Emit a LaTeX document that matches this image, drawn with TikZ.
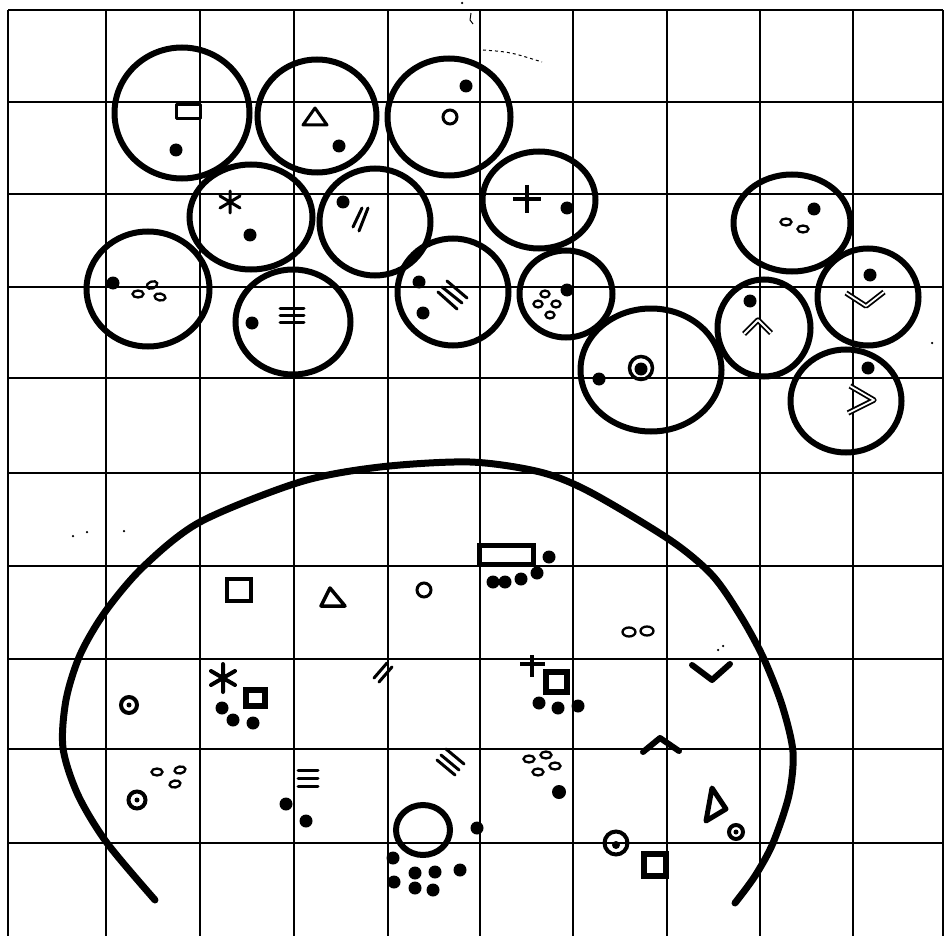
\documentclass[tikz,border=0pt]{standalone}
\usetikzlibrary{shapes.geometric}

\begin{document}
\begin{tikzpicture}[x=1pt, y=-1pt,
  gridline/.style={line width=2pt},
  cell/.style={ellipse, draw, line width=6pt, inner sep=0pt},
  blob/.style={circle, fill, inner sep=0pt, minimum size=13pt},
  speck/.style={circle, fill, inner sep=0pt, minimum size=2.5pt},
  ring/.style={circle, draw, line width=3pt, inner sep=0pt, minimum size=14pt},
  egg/.style={ellipse, draw, line width=2.3pt, inner sep=0pt, minimum width=11pt, minimum height=7pt},
  glyph/.style={line width=3pt, line cap=round, line join=round},
  hollow/.style={line width=1.8pt, double=white, double distance=1.8pt, line join=round},
  heavy/.style={line width=6pt, line cap=round, line join=round}]

  \useasboundingbox (0,0) rectangle (945,936);

  % Grille de fond
  \foreach \gx in {8,106,200,294,388,480,573,667,760,853,943}
    \draw[gridline] (\gx,10) -- (\gx,936);
  \foreach \gy in {10,102,194,287,378,473,566,659,749,843}
    \draw[gridline] (8,\gy) -- (943,\gy);

  % --- Cellules du haut ---
  \node[cell, minimum width=135pt, minimum height=131pt] (cCarre) at (182,113) {};
  \node[cell, minimum width=119pt, minimum height=113pt] (cTriangle) at (317,116) {};
  \node[cell, minimum width=123pt, minimum height=117pt] (cRond) at (449,117) {};
  \node[cell, minimum width=123pt, minimum height=105pt] (cEtoile) at (251,217) {};
  \node[cell, minimum width=111pt, minimum height=107pt] (cDeux) at (375,222) {};
  \node[cell, minimum width=123pt, minimum height=115pt] (cOeufs) at (148,289) {};
  \node[cell, minimum width=115pt, minimum height=105pt] (cBarres) at (293,322) {};
  \node[cell, minimum width=111pt, minimum height=107pt] (cTrois) at (453,292) {};
  \node[cell, minimum width=113pt, minimum height=97pt] (cPlus) at (539,200) {};
  \node[cell, minimum width=93pt, minimum height=87pt] (cQuatre) at (566,294) {};
  \node[cell, minimum width=141pt, minimum height=123pt] (cCible) at (651,370) {};
  \node[cell, minimum width=117pt, minimum height=97pt] (cPaire) at (792,223) {};
  \node[cell, minimum width=93pt, minimum height=97pt] (cHaut) at (764,328) {};
  \node[cell, minimum width=101pt, minimum height=97pt] (cBas) at (868,297) {};
  \node[cell, minimum width=111pt, minimum height=103pt] (cDroite) at (846,401) {};

  % Contenu des cellules
  \draw[glyph] (176,105) rectangle (200,119);
  \node[blob] (dCarre) at (176,150) {};
  \draw[glyph] (303,125) -- (327,125) -- (315,108) -- cycle;
  \node[blob] (dTriangle) at (339,146) {};
  \node[ring] (rRond) at (450,117) {};
  \node[blob] (dRond) at (466,86) {};
  \draw[glyph] (230,191) -- (230,213) (220,196) -- (240,208) (220,208) -- (240,196);
  \node[blob] (dEtoile) at (250,235) {};
  \node[blob] (dDeux) at (343,202) {};
  \draw[glyph] (353,227) -- (362,208) (359,231) -- (368,208);
  \node[blob] (dOeufs) at (113,283) {};
  \node[egg] (o1) at (138,294) {};
  \node[egg, rotate=20] (o2) at (152,285) {};
  \node[egg, rotate=-10] (o3) at (160,297) {};
  \node[blob] (dBarres) at (252,323) {};
  \draw[glyph] (280,308) -- (304,308) (280,315) -- (304,315) (280,322) -- (304,322);
  \node[blob] (dTrois1) at (419,282) {};
  \node[blob] (dTrois2) at (423,313) {};
  \draw[glyph] (447,281) -- (467,298) (442,287) -- (462,303) (438,292) -- (457,309);
  \draw[line width=4pt] (513,199) -- (541,199) (527,185) -- (527,213);
  \node[blob] (dPlus) at (567,208) {};
  \node[blob] (dQuatre) at (567,290) {};
  \node[egg, minimum width=9pt, minimum height=7pt] (q1) at (545,294) {};
  \node[egg, minimum width=9pt, minimum height=7pt] (q2) at (538,304) {};
  \node[egg, minimum width=9pt, minimum height=7pt] (q3) at (556,304) {};
  \node[egg, minimum width=9pt, minimum height=7pt] (q4) at (550,315) {};
  \node[blob] (dCible) at (599,379) {};
  \node[ring, line width=3.5pt, minimum size=23pt] (rCible) at (641,368) {};
  \node[blob, minimum size=13pt] (pCible) at (641,369) {};
  \node[blob] (dPaire) at (814,209) {};
  \node[egg] (p1) at (786,222) {};
  \node[egg] (p2) at (803,229) {};
  \node[blob] (dHaut) at (750,301) {};
  \draw[hollow] (744,334) -- (758,320) -- (771,333);
  \node[blob] (dBas) at (870,275) {};
  \draw[hollow] (846,293) -- (866,306) -- (884,292);
  \node[blob] (dDroite) at (868,368) {};
  \draw[hollow] (850,386) -- (874,400) -- (848,413);

  % --- Grande enceinte du bas ---
  \draw[line width=7pt, line cap=round] plot[smooth] coordinates {
    (155,900) (107,843) (78,795) (63,748) (66,700) (80,655) (105,612)
    (143,567) (200,522) (300,482) (380,467) (470,462) (540,472)
    (590,492) (670,540) (712,575) (740,615) (763,657) (782,705)
    (793,752) (789,795) (773,843) (755,876) (735,903)};

  \node[speck] (s1) at (73,536) {};
  \node[speck] (s2) at (87,532) {};
  \node[speck] (s3) at (124,531) {};

  \draw[line width=4pt] (227,579) rectangle (251,601);
  \draw[line width=3.5pt, line join=round] (321,606) -- (345,606) -- (330,588) -- cycle;
  \node[ring] (rBas) at (424,590) {};

  \node[ring, line width=4pt, minimum size=16pt] (rGauche) at (129,705) {};
  \node[blob, minimum size=5pt] (pGauche) at (129,705) {};
  \draw[line width=4pt, line cap=round] (223,664) -- (223,692) (211,671) -- (235,685) (211,685) -- (235,671);
  \draw[line width=6pt] (246,690) rectangle (265,706);
  \node[blob] (e1) at (222,708) {};
  \node[blob] (e2) at (233,720) {};
  \node[blob] (e3) at (253,723) {};

  \draw[glyph] (374,678) -- (387,663) (379,682) -- (392,667);

  \node[egg] (b1) at (157,772) {};
  \node[egg, rotate=10] (b2) at (180,770) {};
  \node[egg, rotate=10] (b3) at (175,784) {};
  \node[ring, line width=4pt, minimum size=17pt] (rOeufs) at (137,800) {};
  \node[blob, minimum size=5pt] (pOeufs) at (137,800) {};

  \draw[glyph] (298,770) -- (318,770) (298,778) -- (318,778) (298,786) -- (318,786);
  \node[blob] (g1) at (286,804) {};
  \node[blob] (g2) at (306,821) {};

  \draw[glyph] (446,749) -- (464,764) (441,755) -- (459,770) (437,760) -- (455,775);

  \node[ellipse, draw, line width=6pt, inner sep=0pt, minimum width=54pt, minimum height=50pt] (grosRond) at (423,830) {};
  \node[blob] (h1) at (393,858) {};
  \node[blob] (h2) at (394,882) {};
  \node[blob] (h3) at (415,873) {};
  \node[blob] (h4) at (435,872) {};
  \node[blob] (h5) at (460,870) {};
  \node[blob] (h6) at (415,888) {};
  \node[blob] (h7) at (433,890) {};
  \node[blob] (h8) at (477,828) {};

  \draw[line width=5pt] (479,545) rectangle (533,564);
  \node[blob] (k0) at (549,557) {};
  \node[blob] (k1) at (493,582) {};
  \node[blob] (k2) at (505,582) {};
  \node[blob] (k3) at (521,579) {};
  \node[blob] (k4) at (537,573) {};

  \node[egg, minimum width=13pt, minimum height=9pt] (m1) at (629,632) {};
  \node[egg, minimum width=13pt, minimum height=9pt] (m2) at (647,631) {};
  \node[speck] (m3) at (718,650) {};
  \node[speck] (m4) at (723,646) {};

  \draw[line width=4pt] (520,664) -- (545,664) (532,655) -- (532,677);
  \draw[line width=6pt] (546,672) rectangle (567,692);
  \node[blob] (n1) at (539,703) {};
  \node[blob] (n2) at (558,708) {};
  \node[blob] (n3) at (578,706) {};

  \draw[heavy] (692,665) -- (712,680) -- (730,664);
  \draw[heavy] (643,752) -- (660,738) -- (679,751);

  \node[egg] (t1) at (529,759) {};
  \node[egg] (t2) at (546,755) {};
  \node[egg] (t3) at (555,766) {};
  \node[egg] (t4) at (538,772) {};
  \node[blob, minimum size=14pt] (t5) at (559,792) {};

  \draw[heavy, line width=5pt] (712,788) -- (726,809) -- (706,821) -- cycle;
  \node[ring, line width=4pt, minimum size=14pt] (rDroite) at (736,832) {};
  \node[blob, minimum size=5pt] (pDroite) at (736,832) {};

  \node[ring, line width=4pt, minimum size=23pt] (rCibleBas) at (616,843) {};
  \node[blob, minimum size=8pt] (pCibleBas) at (616,845) {};
  \draw[line width=6pt] (644,854) rectangle (666,876);

  % Traces parasites du papier
  \node[speck] (x1) at (462,3) {};
  \draw[line width=1pt] (471,13) -- (470,20) -- (473,24);
  \draw[line width=1pt, dashed] (483,50) .. controls (510,52) .. (542,62);
  \node[speck] (x2) at (932,343) {};

\end{tikzpicture}
\end{document}
